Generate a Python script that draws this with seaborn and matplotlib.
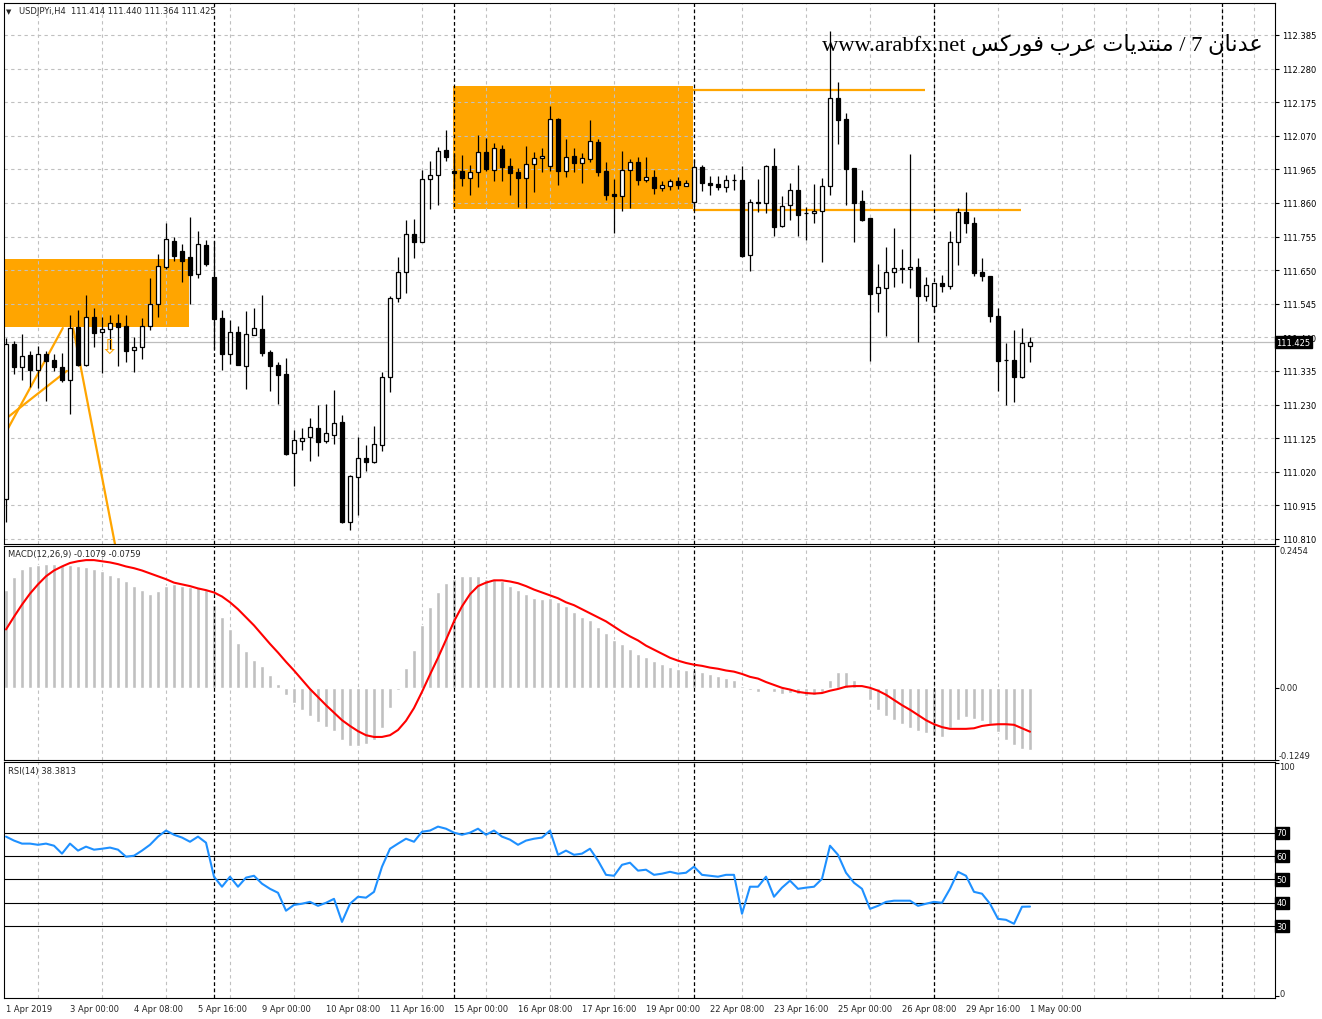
import numpy as np
import pandas as pd
import matplotlib
matplotlib.use("Agg")
import matplotlib.pyplot as plt
import matplotlib.transforms as mtransforms
from matplotlib.patches import Rectangle
import seaborn as sns

# ---------------- data ----------------
symbol_header = "USDJPYi,H4  111.414 111.440 111.364 111.425"
macd_header = "MACD(12,26,9) -0.1079 -0.0759"
rsi_header = "RSI(14) 38.3813"
watermark_latin = "www.arabfx.net"
watermark_arabic = "عدنان 7 / منتديات عرب فوركس"

opens = [110.935, 111.419, 111.348, 111.385, 111.338, 111.388, 111.369, 111.348, 111.307, 111.473,
         111.354, 111.504, 111.457, 111.466, 111.485, 111.476, 111.401, 111.410, 111.476, 111.544,
         111.660, 111.741, 111.710, 111.691, 111.638, 111.729, 111.629, 111.501, 111.388, 111.457,
         111.351, 111.448, 111.466, 111.394, 111.354, 111.326, 111.079, 111.116, 111.129, 111.157,
         111.116, 111.135, 111.176, 110.863, 111.004, 111.063, 111.051, 111.104, 111.316, 111.563,
         111.644, 111.763, 111.738, 111.935, 111.948, 112.026, 111.960, 111.960, 111.938, 111.957,
         112.019, 111.963, 112.029, 111.976, 111.957, 111.938, 111.982, 112.001, 111.976, 112.122,
         111.960, 112.007, 111.985, 111.998, 112.051, 111.960, 111.888, 111.882, 111.963, 111.988,
         111.932, 111.941, 111.907, 111.913, 111.929, 111.913, 111.863, 111.973, 111.923, 111.919,
         111.910, 111.932, 111.932, 111.698, 111.863, 111.860, 111.976, 111.788, 111.854, 111.901,
         111.829, 111.829, 111.835, 111.913, 112.188, 112.122, 111.969, 111.866, 111.813, 111.579,
         111.594, 111.644, 111.657, 111.654, 111.660, 111.569, 111.538, 111.610, 111.601, 111.738,
         111.832, 111.798, 111.644, 111.632, 111.507, 111.369, 111.369, 111.316, 111.414]
highs = [111.438, 111.429, 111.451, 111.398, 111.413, 111.398, 111.388, 111.391, 111.510, 111.526,
         111.573, 111.532, 111.504, 111.510, 111.513, 111.510, 111.441, 111.501, 111.626, 111.701,
         111.798, 111.754, 111.732, 111.816, 111.773, 111.744, 111.741, 111.526, 111.494, 111.476,
         111.523, 111.532, 111.573, 111.401, 111.363, 111.376, 111.151, 111.157, 111.188, 111.229,
         111.232, 111.276, 111.198, 111.010, 111.129, 111.104, 111.163, 111.332, 111.569, 111.691,
         111.807, 111.810, 111.963, 111.991, 112.035, 112.088, 112.013, 112.010, 111.979, 112.073,
         112.063, 112.048, 112.041, 112.001, 111.969, 112.038, 112.019, 112.032, 112.163, 112.126,
         112.060, 112.032, 112.016, 112.119, 112.060, 111.988, 111.935, 112.023, 111.998, 112.004,
         112.004, 111.963, 111.929, 111.935, 111.941, 111.932, 111.998, 111.979, 111.944, 111.944,
         111.948, 111.951, 111.976, 111.873, 111.935, 111.979, 112.032, 111.882, 111.923, 111.979,
         111.848, 111.919, 111.938, 112.397, 112.238, 112.141, 111.969, 111.901, 111.813, 111.669,
         111.723, 111.782, 111.716, 112.013, 111.688, 111.629, 111.610, 111.635, 111.773, 111.844,
         111.894, 111.816, 111.688, 111.632, 111.532, 111.423, 111.463, 111.469, 111.440]
lows = [110.863, 111.326, 111.307, 111.285, 111.282, 111.241, 111.335, 111.301, 111.201, 111.351,
        111.350, 111.410, 111.329, 111.404, 111.351, 111.363, 111.332, 111.373, 111.463, 111.504,
        111.654, 111.679, 111.613, 111.544, 111.626, 111.663, 111.404, 111.338, 111.357, 111.354,
        111.279, 111.448, 111.382, 111.273, 111.232, 111.073, 110.976, 111.088, 111.054, 111.069,
        111.110, 111.107, 110.860, 110.838, 110.885, 111.023, 111.048, 111.085, 111.269, 111.551,
        111.579, 111.688, 111.738, 111.841, 111.854, 111.991, 111.904, 111.913, 111.885, 111.910,
        111.960, 111.929, 111.929, 111.885, 111.848, 111.844, 111.894, 111.957, 111.960, 111.916,
        111.941, 111.957, 111.923, 111.988, 111.944, 111.869, 111.766, 111.835, 111.844, 111.916,
        111.926, 111.888, 111.898, 111.901, 111.904, 111.913, 111.838, 111.898, 111.885, 111.901,
        111.894, 111.901, 111.691, 111.648, 111.832, 111.829, 111.757, 111.785, 111.807, 111.757,
        111.744, 111.798, 111.676, 111.885, 112.044, 111.854, 111.738, 111.804, 111.366, 111.519,
        111.444, 111.598, 111.610, 111.594, 111.425, 111.554, 111.519, 111.582, 111.591, 111.666,
        111.766, 111.632, 111.616, 111.488, 111.273, 111.229, 111.238, 111.313, 111.364]
closes = [111.419, 111.348, 111.382, 111.338, 111.388, 111.366, 111.348, 111.307, 111.469, 111.354,
          111.504, 111.454, 111.466, 111.485, 111.473, 111.398, 111.410, 111.476, 111.544, 111.663,
          111.748, 111.694, 111.679, 111.635, 111.732, 111.669, 111.498, 111.388, 111.457, 111.354,
          111.451, 111.469, 111.391, 111.351, 111.323, 111.076, 111.119, 111.126, 111.160, 111.113,
          111.141, 111.173, 110.863, 111.007, 111.063, 111.051, 111.107, 111.316, 111.563, 111.644,
          111.763, 111.738, 111.935, 111.948, 112.023, 112.004, 111.954, 111.938, 111.957, 112.019,
          111.966, 112.032, 111.973, 111.954, 111.938, 111.982, 112.001, 112.007, 112.122, 111.960,
          112.004, 111.985, 112.001, 112.054, 111.957, 111.885, 111.882, 111.963, 111.988, 111.932,
          111.941, 111.907, 111.916, 111.929, 111.916, 111.923, 111.973, 111.923, 111.916, 111.910,
          111.932, 111.932, 111.694, 111.863, 111.860, 111.976, 111.785, 111.851, 111.901, 111.823,
          111.829, 111.835, 111.913, 112.188, 112.119, 111.966, 111.860, 111.807, 111.576, 111.598,
          111.644, 111.657, 111.654, 111.660, 111.569, 111.604, 111.610, 111.601, 111.738, 111.832,
          111.798, 111.641, 111.632, 111.507, 111.366, 111.369, 111.316, 111.423, 111.425]

macd_hist = [0.170, 0.191, 0.205, 0.210, 0.212, 0.214, 0.214, 0.212, 0.212, 0.210,
             0.209, 0.205, 0.202, 0.196, 0.191, 0.184, 0.177, 0.169, 0.163, 0.167,
             0.176, 0.179, 0.176, 0.174, 0.174, 0.169, 0.144, 0.123, 0.101, 0.078,
             0.063, 0.049, 0.038, 0.023, 0.007, -0.012, -0.026, -0.038, -0.049, -0.059,
             -0.068, -0.075, -0.090, -0.101, -0.101, -0.097, -0.090, -0.070, -0.035, -0.003,
             0.035, 0.066, 0.109, 0.139, 0.165, 0.182, 0.189, 0.193, 0.193, 0.193,
             0.189, 0.188, 0.184, 0.177, 0.169, 0.162, 0.156, 0.153, 0.156, 0.149,
             0.141, 0.132, 0.123, 0.118, 0.106, 0.094, 0.082, 0.075, 0.068, 0.059,
             0.054, 0.047, 0.042, 0.036, 0.033, 0.030, 0.031, 0.028, 0.024, 0.021,
             0.017, 0.014, 0.003, -0.003, -0.007, -0.002, -0.007, -0.010, -0.009, -0.010,
             -0.014, -0.012, -0.007, 0.014, 0.028, 0.028, 0.014, 0.000, -0.021, -0.038,
             -0.049, -0.056, -0.063, -0.070, -0.075, -0.078, -0.083, -0.085, -0.070, -0.056,
             -0.050, -0.054, -0.057, -0.063, -0.076, -0.090, -0.099, -0.106, -0.1079]
macd_signal = [0.101, 0.123, 0.144, 0.163, 0.179, 0.193, 0.203, 0.210, 0.216, 0.219,
               0.221, 0.221, 0.219, 0.217, 0.214, 0.210, 0.207, 0.203, 0.198, 0.193,
               0.188, 0.182, 0.179, 0.176, 0.172, 0.169, 0.165, 0.158, 0.148, 0.136,
               0.122, 0.108, 0.092, 0.076, 0.061, 0.045, 0.030, 0.014, -0.002, -0.016,
               -0.030, -0.043, -0.056, -0.066, -0.075, -0.082, -0.085, -0.085, -0.082, -0.073,
               -0.057, -0.035, -0.007, 0.023, 0.052, 0.083, 0.115, 0.141, 0.162, 0.176,
               0.182, 0.186, 0.186, 0.184, 0.181, 0.176, 0.170, 0.165, 0.160, 0.155,
               0.148, 0.143, 0.136, 0.129, 0.122, 0.115, 0.106, 0.097, 0.089, 0.082,
               0.073, 0.066, 0.059, 0.052, 0.047, 0.043, 0.040, 0.038, 0.035, 0.033,
               0.030, 0.028, 0.024, 0.019, 0.016, 0.010, 0.005, 0.000, -0.003, -0.007,
               -0.009, -0.010, -0.009, -0.005, -0.002, 0.002, 0.003, 0.003, 0.000, -0.005,
               -0.012, -0.021, -0.030, -0.038, -0.047, -0.056, -0.063, -0.068, -0.071, -0.071,
               -0.071, -0.070, -0.066, -0.064, -0.063, -0.063, -0.064, -0.070, -0.0759]
rsi_values = [68.4, 66.7, 65.4, 65.4, 64.9, 65.4, 64.5, 61.1, 65.4, 62.4,
              64.1, 62.8, 63.2, 63.7, 62.8, 59.8, 60.2, 62.4, 64.9, 68.4,
              71.0, 69.2, 68.0, 66.2, 68.4, 65.8, 51.2, 46.9, 51.2, 46.9,
              50.8, 51.6, 48.2, 46.0, 44.3, 36.6, 39.1, 39.6, 40.4, 38.7,
              40.0, 41.7, 31.8, 39.6, 42.6, 42.2, 44.7, 55.5, 63.2, 65.4,
              67.5, 66.2, 70.5, 71.0, 72.7, 71.8, 70.1, 69.2, 70.1, 71.8,
              69.2, 71.0, 68.4, 67.1, 64.9, 66.7, 67.5, 68.0, 71.0, 60.6,
              62.4, 60.6, 61.1, 63.2, 58.1, 52.0, 51.6, 56.3, 57.2, 53.8,
              54.2, 52.0, 52.5, 53.3, 52.5, 52.9, 55.5, 52.0, 51.6, 51.2,
              52.0, 52.0, 35.3, 46.9, 46.9, 51.2, 42.6, 46.5, 49.5, 46.0,
              46.5, 46.9, 50.3, 64.5, 60.6, 52.9, 48.6, 46.0, 37.4, 38.7,
              40.4, 40.9, 40.9, 40.9, 38.7, 39.6, 40.4, 40.0, 46.0, 53.3,
              51.6, 44.7, 43.9, 39.6, 33.1, 32.7, 31.0, 38.3, 38.3813]

x_tick_bars = [0, 8, 16, 24, 32, 40, 48, 56, 64, 72, 80, 88, 96, 104, 112, 120, 128]
x_tick_labels = ["1 Apr 2019", "3 Apr 00:00", "4 Apr 08:00", "5 Apr 16:00", "9 Apr 00:00",
                 "10 Apr 08:00", "11 Apr 16:00", "15 Apr 00:00", "16 Apr 08:00", "17 Apr 16:00",
                 "19 Apr 00:00", "22 Apr 08:00", "23 Apr 16:00", "25 Apr 00:00", "26 Apr 08:00",
                 "29 Apr 16:00", "1 May 00:00"]
week_separators = [26, 56, 86, 116, 152]
price_ticks = [112.385, 112.280, 112.175, 112.070, 111.965, 111.860, 111.755, 111.650,
               111.545, 111.440, 111.335, 111.230, 111.125, 111.020, 110.915, 110.810]
macd_range = [-0.1249, 0.2454]
rsi_levels = [70, 60, 50, 40, 30]

# drawn objects (bar index, price)
zones = [(-0.5, 22.9, 111.473, 111.685), (55.9, 85.9, 111.841, 112.226)]
level_segments = [(85.9, 114.9, 112.213), (85.9, 126.9, 111.838)]
trend_lines = [((-0.3, 111.130), (7.1, 111.469)),
               ((-0.3, 111.180), (7.6, 111.335)),
               ((8.4, 111.469), (13.65, 110.790))]
sell_arrow = (12.9, 111.410)

# ---------------- arabic visual shaping (presentation forms) ----------------
FORMS = {
    '\u0627': ('\uFE8D', '\uFE8E', None, None),
    '\u0628': ('\uFE8F', '\uFE90', '\uFE91', '\uFE92'),
    '\u062A': ('\uFE95', '\uFE96', '\uFE97', '\uFE98'),
    '\u062F': ('\uFEA9', '\uFEAA', None, None),
    '\u0631': ('\uFEAD', '\uFEAE', None, None),
    '\u0633': ('\uFEB1', '\uFEB2', '\uFEB3', '\uFEB4'),
    '\u0639': ('\uFEC9', '\uFECA', '\uFECB', '\uFECC'),
    '\u0641': ('\uFED1', '\uFED2', '\uFED3', '\uFED4'),
    '\u0643': ('\uFED9', '\uFEDA', '\uFEDB', '\uFEDC'),
    '\u0645': ('\uFEE1', '\uFEE2', '\uFEE3', '\uFEE4'),
    '\u0646': ('\uFEE5', '\uFEE6', '\uFEE7', '\uFEE8'),
    '\u0648': ('\uFEED', '\uFEEE', None, None),
    '\u064A': ('\uFEF1', '\uFEF2', '\uFEF3', '\uFEF4'),
}


def shape_word(w):
    out = []
    for i, ch in enumerate(w):
        f = FORMS.get(ch)
        if f is None:
            out.append(ch)
            continue
        prev = w[i - 1] if i > 0 else None
        nxt = w[i + 1] if i < len(w) - 1 else None
        jp = prev in FORMS and FORMS[prev][2] is not None
        jn = (nxt in FORMS) and f[2] is not None
        if jp and jn:
            g = f[3]
        elif jp:
            g = f[1]
        elif jn:
            g = f[2]
        else:
            g = f[0]
        out.append(g)
    if any(c in FORMS for c in w):
        return ''.join(reversed(out))
    return w


def visual_rtl(text):
    return ' '.join(shape_word(t) for t in reversed(text.split(' ')))


# ---------------- style ----------------
sns.set_style("white")
plt.rcParams['font.family'] = ['DejaVu Sans']
plt.rcParams['axes.linewidth'] = 0.8

W, H = 1322, 1020
fig = plt.figure(figsize=(W / 100, H / 100), dpi=100)
fig.patch.set_facecolor('white')


def frac(x0, y0, x1, y1):
    return [x0 / W, 1 - y1 / H, (x1 - x0) / W, (y1 - y0) / H]


ax1 = fig.add_axes(frac(4, 4, 1275, 545))
ax2 = fig.add_axes(frac(4, 547, 1275, 761), sharex=ax1)
ax3 = fig.add_axes(frac(4, 763, 1275, 999), sharex=ax1)

n = len(closes)
idx = np.arange(n)
o = np.array(opens); c = np.array(closes); hi = np.array(highs); lo = np.array(lows)
up = c >= o

GRID = dict(color='#C0C0C0', linestyle=(0, (3, 3)), linewidth=0.8)
SEP = dict(color='black', linestyle=(0, (3, 2)), linewidth=0.9, zorder=2.5)

for ax in (ax1, ax2, ax3):
    ax.set_facecolor('white')
    for s in ax.spines.values():
        s.set_color('black')
        s.set_linewidth(0.8)
    ax.set_xticks(np.arange(0, 160, 4), minor=True)
    ax.tick_params(which='minor', length=0)
    ax.grid(True, which='minor', axis='x', **GRID)
    ax.set_axisbelow(True)
    for b in week_separators:
        ax.axvline(b, **SEP)
    ax.yaxis.tick_right()
    ax.tick_params(axis='y', direction='out', length=3, width=0.8, labelsize=6, pad=2, colors='black')

ax1.set_xlim(-0.25, 158.625)

# ---------------- main price panel ----------------
ax1.set_ylim(110.794, 112.485)
ax1.set_yticks(price_ticks)
ax1.set_yticklabels([f"{v:.3f}" for v in price_ticks])
ax1.grid(True, which='major', axis='y', **GRID)
ax1.tick_params(axis='x', which='major', length=0, labelbottom=False)

for x0, x1, y0, y1 in zones:
    ax1.add_patch(Rectangle((x0, y0), x1 - x0, y1 - y0, facecolor='#FFA500', edgecolor='none', zorder=0.3))
for x0, x1, y in level_segments:
    ax1.hlines(y, x0, x1, color='#FFA500', lw=1.6, zorder=2)
for (x0, y0), (x1, y1) in trend_lines:
    ax1.plot([x0, x1], [y0, y1], color='#FFA500', lw=1.6, zorder=2)

ax1.axhline(c[-1], color='#BDBDBD', lw=0.9, zorder=0.6)

ax1.vlines(idx, lo, hi, color='black', lw=0.9, zorder=3)
ax1.bar(idx[up], (c - o)[up], bottom=o[up], width=0.62, color='white', edgecolor='black', linewidth=0.9, zorder=4)
ax1.bar(idx[~up], (o - c)[~up], bottom=c[~up], width=0.62, color='black', edgecolor='black', linewidth=0.9, zorder=4)

ax1.text(sell_arrow[0], sell_arrow[1], '\u21E9', color='#FFA500', fontsize=15, ha='center', va='center',
         zorder=5, family='DejaVu Sans')

wm = watermark_latin + ' ' + visual_rtl(watermark_arabic)
ax1.text(0.990, 0.925, wm, transform=ax1.transAxes, ha='right', va='center', fontsize=16.2,
         family=['Liberation Serif', 'DejaVu Sans'], color='black', zorder=6)

blend1 = mtransforms.blended_transform_factory(ax1.transAxes, ax1.transData)
ax1.text(1.0 + 1.5 / 1271, c[-1], f"{c[-1]:.3f}", transform=blend1, ha='left', va='center', fontsize=6,
         color='white', zorder=10, clip_on=False,
         bbox=dict(boxstyle='square,pad=0.22', facecolor='black', edgecolor='black'))

# ---------------- MACD panel ----------------
ax2.bar(idx, macd_hist, width=0.5, color='#C0C0C0', zorder=2)
sns.lineplot(x=idx, y=macd_signal, ax=ax2, color='#FF0000', lw=1.5, zorder=3)
ax2.set_ylim(macd_range[0], macd_range[1])
ax2.set_yticks([macd_range[0], 0.0, macd_range[1]])
ax2.set_yticklabels([])
ax2.tick_params(axis='x', which='major', length=0, labelbottom=False)
ax2.set_ylabel('')
blend2 = mtransforms.blended_transform_factory(ax2.transAxes, ax2.transData)
tx = 1.0 + 4 / 1271
ax2.text(tx, macd_range[1], f"{macd_range[1]:.4f}", transform=blend2, ha='left', va='top', fontsize=6)
ax2.text(tx, 0.0, "0.00", transform=blend2, ha='left', va='center', fontsize=6)
ax2.text(tx, macd_range[0], f"{macd_range[0]:.4f}", transform=blend2, ha='left', va='bottom', fontsize=6)

# ---------------- RSI panel ----------------
for lv in rsi_levels:
    ax3.axhline(lv, color='black', lw=0.8, zorder=1.5)
sns.lineplot(x=idx, y=rsi_values, ax=ax3, color='#1E90FF', lw=1.5, zorder=3)
ax3.set_ylim(-0.86, 100.43)
ax3.set_yticks([0] + rsi_levels + [100])
ax3.set_yticklabels([])
ax3.set_ylabel('')
blend3 = mtransforms.blended_transform_factory(ax3.transAxes, ax3.transData)
ax3.text(tx, 100.43, "100", transform=blend3, ha='left', va='top', fontsize=6)
ax3.text(tx, -0.86, "0", transform=blend3, ha='left', va='bottom', fontsize=6)
for lv in rsi_levels:
    ax3.text(1.0 + 1.5 / 1271, lv, f"{lv}", transform=blend3, ha='left', va='center', fontsize=6,
             color='white', clip_on=False,
             bbox=dict(boxstyle='square,pad=0.2', facecolor='black', edgecolor='black'))

ax3.set_xticks(x_tick_bars)
ax3.set_xticklabels(x_tick_labels, ha='left', fontsize=6)
ax3.tick_params(axis='x', which='major', direction='out', length=3, width=0.8, pad=1, labelbottom=True)
ax3.set_xlabel('')

# ---------------- headers ----------------
fig.text(6 / W, 1 - 12 / H, '\u25BC', fontsize=5, va='center', ha='left')
fig.text(19 / W, 1 - 12 / H, symbol_header, fontsize=6, va='center', ha='left')
fig.text(8 / W, 1 - 555 / H, macd_header, fontsize=6, va='center', ha='left')
fig.text(8 / W, 1 - 772 / H, rsi_header, fontsize=6, va='center', ha='left')

fig.savefig('out.png', dpi=100, facecolor='white')
